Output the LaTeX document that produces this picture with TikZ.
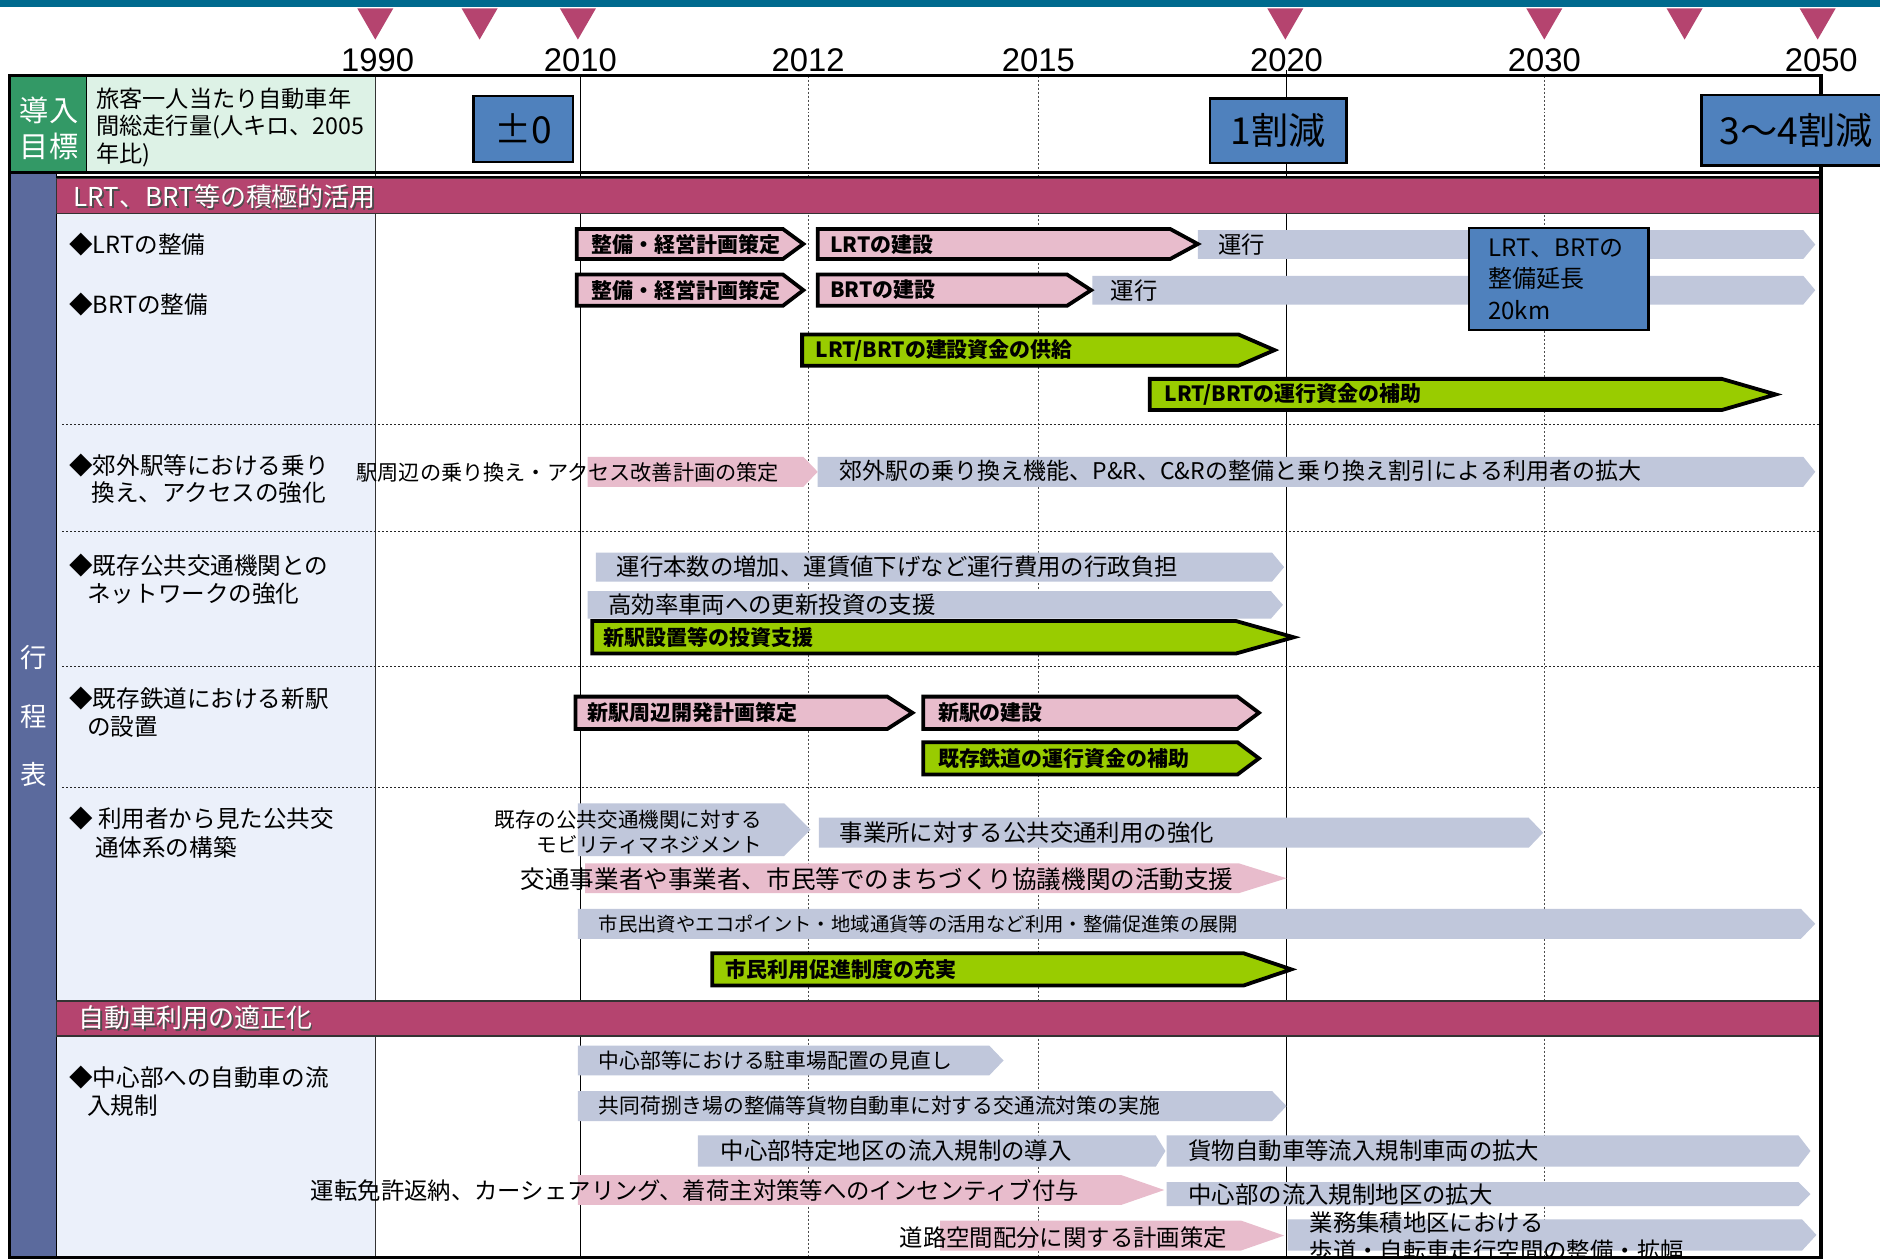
\documentclass[tikz,border=0pt]{standalone}
\usepackage{fontspec}
\setmainfont{Noto Sans CJK JP}
\newfontfamily\latinsans{Liberation Sans}

\definecolor{topbar}{HTML}{006A8E}
\definecolor{plum}{HTML}{B5446F}
\definecolor{slate}{HTML}{5B6A9D}
\definecolor{leafgreen}{HTML}{339966}
\definecolor{mint}{HTML}{DDF2E6}
\definecolor{ice}{HTML}{EBF0FA}
\definecolor{steel}{HTML}{4F81BD}
\definecolor{haze}{HTML}{C0C7DB}
\definecolor{blush}{HTML}{E8BCCC}
\definecolor{lime}{HTML}{99CC00}

% font size helper (size, baselineskip in pt)
\newcommand{\fsz}[2]{\fontsize{#1}{#2}\selectfont}

% chevron-shaped bar: [style] {x start}{x tip}{y top}{y bottom}{tip depth}
\newcommand{\tagbar}[6][]{%
  \path[#1] (#2,#4) -- ({#3-#6},#4) -- (#3,{(#4+#5)/2}) -- ({#3-#6},#5) -- (#2,#5) -- cycle;}

\tikzset{
  graybar/.style={fill=haze},
  pinkbar/.style={fill=blush},
  pinkbold/.style={fill=blush, draw=black, line width=1.9pt, line join=miter},
  limebold/.style={fill=lime, draw=black, line width=1.9pt, line join=miter},
  yearlbl/.style={font=\latinsans\fsz{16.4}{18}, inner sep=0pt},
  lbl/.style={anchor=west, inner sep=0pt, font=\fsz{11.7}{13}},
  lblsmall/.style={anchor=west, inner sep=0pt, font=\fsz{10.4}{12}},
  lbltiny/.style={anchor=west, inner sep=0pt, font=\fsz{9.7}{11}},
  bld/.style={anchor=west, inner sep=0pt, font=\bfseries\fsz{10.5}{12}},
  leftlbl/.style={anchor=west, inner sep=0pt, font=\fsz{11.8}{13}},
  headtxt/.style={anchor=west, inner sep=0pt, text=white, font=\fsz{13}{15}},
  headshadow/.style={anchor=west, inner sep=0pt, text=black!70, font=\fsz{13}{15}},
  goalbox/.style={fill=steel, draw=black, line width=1.2pt},
  goaltxt/.style={inner sep=0pt, font=\fsz{18.6}{20}},
  gridsolid/.style={line width=0.7pt, black},
  griddot/.style={line width=0.45pt, black!70, dash pattern=on 1pt off 1pt},
  sepdot/.style={line width=0.6pt, black!85, dash pattern=on 1pt off 1pt},
}

\begin{document}
\begin{tikzpicture}[x=0.6pt, y=-0.6pt]
\clip (0,0) rectangle (1568,1050);
\fill[white] (0,0) rectangle (1568,1050);

% ---- header strip, milestones and years
\fill[topbar] (0,0) rectangle (1568,5.5);
\foreach \t in {313,400,482,1072,1288,1405,1516}
  \fill[plum] ({\t-15},7) -- ({\t+15},7) -- (\t,33) -- cycle;
\foreach \yr/\xx in {1990/315,2010/484,2012/674,2015/866,2020/1073,2030/1288,2050/1519}
  \node[yearlbl] (yr\yr) at (\xx,50) {\yr};

% ---- table backgrounds
\fill[leafgreen] (8,63) rectangle (72,143);
\fill[mint] (72,63) rectangle (313,143);
\fill[slate] (8,143) rectangle (47,1049);
\fill[ice] (47,178) rectangle (313,835);
\fill[ice] (47,864) rectangle (313,1049);

% ---- grid
\draw[line width=0.7pt, black!80] (313,63) -- (313,1049);
\draw[gridsolid] (484,63) -- (484,1049);
\draw[gridsolid] (1073,58) -- (1073,1049);
\foreach \xx in {674,866,1288}
  \draw[griddot] (\xx,63) -- (\xx,1049);
\foreach \yy in {354,443,556,657}
  \draw[sepdot] (52,\yy) -- (1518,\yy);

\draw[line width=1.5pt] (8,143.5) -- (1519,143.5);
\draw[line width=1.2pt] (47,147.5) -- (1519,147.5);
\draw[line width=0.8pt] (47,143) -- (47,1049);
\draw[line width=0.8pt] (72,63) -- (72,143);

% ---- section bands
\draw[fill=plum, draw=black!80, line width=0.8pt] (47,149) rectangle (1518,178);
\draw[fill=plum, draw=black!80, line width=0.8pt] (47,835) rectangle (1518,864);
\node[headshadow] (h1s) at (62.5,165.5) {LRT、BRT等の積極的活用};
\node[headtxt] (h1) at (61,164) {LRT、BRT等の積極的活用};
\node[headshadow] (h2s) at (66.5,850.5) {自動車利用の適正化};
\node[headtxt] (h2) at (65,849) {自動車利用の適正化};

% ---- outer frame
\draw[line width=1.8pt] (8,1049) -- (8,63) -- (1519,63) -- (1519,1049) -- cycle;

% ---- target row
\node[inner sep=0pt, text=white, font=\fsz{14.6}{16}] (goalA) at (41,92) {導入};
\node[inner sep=0pt, text=white, font=\fsz{14.6}{16}] (goalB) at (41,122) {目標};
\node[anchor=west, inner sep=0pt, align=left, font=\fsz{11.6}{13.8}] (goaldesc) at (80,106)
  {旅客一人当たり自動車年\\間総走行量(人キロ、2005\\年比)};

\draw[goalbox] (395,80) rectangle (478,135);
\node[goaltxt] (g1) at (436.5,107.5) {±0};
\draw[goalbox] (1009,82) rectangle (1123,136);
\node[goaltxt] (g2) at (1066,109) {1割減};
\draw[goalbox] (1419,79) rectangle (1575,138);
\node[goaltxt, anchor=west] (g3) at (1434,108.5) {3～4割減};

% ---- schedule column
\node[inner sep=0pt, text=white, font=\fsz{13.2}{14}] (sc1) at (28,548) {行};
\node[inner sep=0pt, text=white, font=\fsz{13.2}{14}] (sc2) at (28,598) {程};
\node[inner sep=0pt, text=white, font=\fsz{13.2}{14}] (sc3) at (28,646) {表};

% ---- item labels
\node[leftlbl] (i1) at (57.5,204) {◆LRTの整備};
\node[leftlbl] (i2) at (57.5,254) {◆BRTの整備};
\node[leftlbl] (i3a) at (57.5,388) {◆郊外駅等における乗り};
\node[leftlbl] (i3b) at (76,411) {換え、アクセスの強化};
\node[leftlbl] (i4a) at (57.5,472) {◆既存公共交通機関との};
\node[leftlbl] (i4b) at (72.5,495) {ネットワークの強化};
\node[leftlbl] (i5a) at (57.5,583) {◆既存鉄道における新駅};
\node[leftlbl] (i5b) at (72.5,606) {の設置};
\node[leftlbl] (i6a) at (57.5,683) {◆ 利用者から見た公共交};
\node[leftlbl] (i6b) at (79,707) {通体系の構築};
\node[leftlbl] (i7a) at (57.5,899) {◆中心部への自動車の流};
\node[leftlbl] (i7b) at (72.5,922) {入規制};

% ---- LRT / BRT
\tagbar[graybar]{999}{1514}{192}{216}{10}
\tagbar[graybar]{911}{1514}{230}{254}{10}
\tagbar[pinkbold]{481}{670}{191}{216}{17}
\tagbar[pinkbold]{682}{999}{191}{216}{23}
\tagbar[pinkbold]{481}{670}{229}{255}{17}
\tagbar[pinkbold]{682}{910}{229}{255}{20}
\tagbar[limebold]{669}{1063}{279}{305}{30}
\tagbar[limebold]{959}{1481}{316}{342}{45}
\node[bld] (a1) at (493,204) {整備・経営計画策定};
\node[bld] (a2) at (692,204) {LRTの建設};
\node[lbl] (a3) at (1016,204) {運行};
\node[bld] (a4) at (493,242) {整備・経営計画策定};
\node[bld] (a5) at (692,242) {BRTの建設};
\node[lbl] (a6) at (926,242) {運行};
\node[bld] (a7) at (680,292) {LRT/BRTの建設資金の供給};
\node[bld] (a8) at (971,329) {LRT/BRTの運行資金の補助};
\draw[goalbox] (1225,190) rectangle (1375,275);
\node[anchor=west, inner sep=0pt, align=left, font=\fsz{12}{15.6}] (ext) at (1241,233)
  {LRT、BRTの\\整備延長\\20km};

% ---- suburban stations
\tagbar[pinkbar]{490}{682}{381}{406}{12}
\tagbar[graybar]{682}{1514}{381}{406}{10}
\node[anchor=west, inner sep=0pt, font=\fsz{10.6}{12}] (b1) at (297,394) {駅周辺の乗り換え・アクセス改善計画の策定};
\node[anchor=west, inner sep=0pt, font=\fsz{11.5}{13}] (b2) at (700,393) {郊外駅の乗り換え機能、P\&R、C\&Rの整備と乗り換え割引による利用者の拡大};

% ---- existing public transport
\tagbar[graybar]{497}{1071}{461}{485}{10}
\tagbar[graybar]{490}{1070}{493}{516}{10}
\tagbar[limebold]{494}{1079}{518}{545}{48}
\node[lbl] (c1) at (514,473) {運行本数の増加、運賃値下げなど運行費用の行政負担};
\node[lbl] (c2) at (507,504.5) {高効率車両への更新投資の支援};
\node[bld] (c3) at (503,531.5) {新駅設置等の投資支援};

% ---- new stations
\tagbar[pinkbold]{480}{761}{581}{608}{21}
\tagbar[pinkbold]{770}{1050}{581}{608}{18}
\tagbar[limebold]{770}{1050}{619}{646}{18}
\node[bld] (d1) at (490,594.5) {新駅周辺開発計画策定};
\node[bld] (d2) at (782,594.5) {新駅の建設};
\node[bld] (d3) at (782,632.5) {既存鉄道の運行資金の補助};

% ---- user side
\tagbar[graybar]{482}{676}{670}{714}{22}
\tagbar[graybar]{683}{1287}{682}{707}{12}
\tagbar[pinkbar]{488}{1073}{720}{745}{40}
\tagbar[graybar]{482}{1514}{758}{783}{12}
\tagbar[limebold]{594}{1077}{795}{822}{40}
\node[anchor=east, inner sep=0pt, align=right, font=\fsz{10.3}{12.6}] (e1) at (636,694)
  {既存の公共交通機関に対する\\モビリティマネジメント};
\node[lbl] (e2) at (700,694.5) {事業所に対する公共交通利用の強化};
\node[anchor=west, inner sep=0pt, font=\fsz{12.3}{14}] (e3) at (434,733) {交通事業者や事業者、市民等でのまちづくり協議機関の活動支援};
\node[lbltiny] (e4) at (499,771) {市民出資やエコポイント・地域通貨等の活用など利用・整備促進策の展開};
\node[bld] (e5) at (605,808.5) {市民利用促進制度の充実};

% ---- car restraint
\tagbar[graybar]{482}{837}{872}{897}{12}
\tagbar[graybar]{482}{1073}{910}{935}{12}
\tagbar[graybar]{582}{972}{947}{973}{8}
\tagbar[graybar]{973}{1510}{947}{973}{10}
\tagbar[pinkbar]{482}{971}{980}{1005}{36}
\tagbar[graybar]{973}{1510}{986}{1006}{10}
\tagbar[pinkbar]{784}{1071}{1018}{1043}{36}
\tagbar[graybar]{1074}{1515}{1017}{1043}{12}
\node[lblsmall] (f1) at (499,884.5) {中心部等における駐車場配置の見直し};
\node[lblsmall] (f2) at (499,922.5) {共同荷捌き場の整備等貨物自動車に対する交通流対策の実施};
\node[lbl] (f3) at (601,960) {中心部特定地区の流入規制の導入};
\node[lbl] (f4) at (991,960) {貨物自動車等流入規制車両の拡大};
\node[lbl] (f5) at (259,993) {運転免許返納、カーシェアリング、着荷主対策等へのインセンティブ付与};
\node[lbl] (f6) at (991,996) {中心部の流入規制地区の拡大};
\node[lbl] (f7) at (750,1032) {道路空間配分に関する計画策定};
\node[lbl] (f8) at (1092,1020) {業務集積地区における};
\node[lbl] (f9) at (1092,1043) {歩道・自転車走行空間の整備・拡幅};

% bottom frame edge stays on top of the clipped text
\draw[line width=1.8pt] (8,1049) -- (1519,1049);
\end{tikzpicture}
\end{document}
